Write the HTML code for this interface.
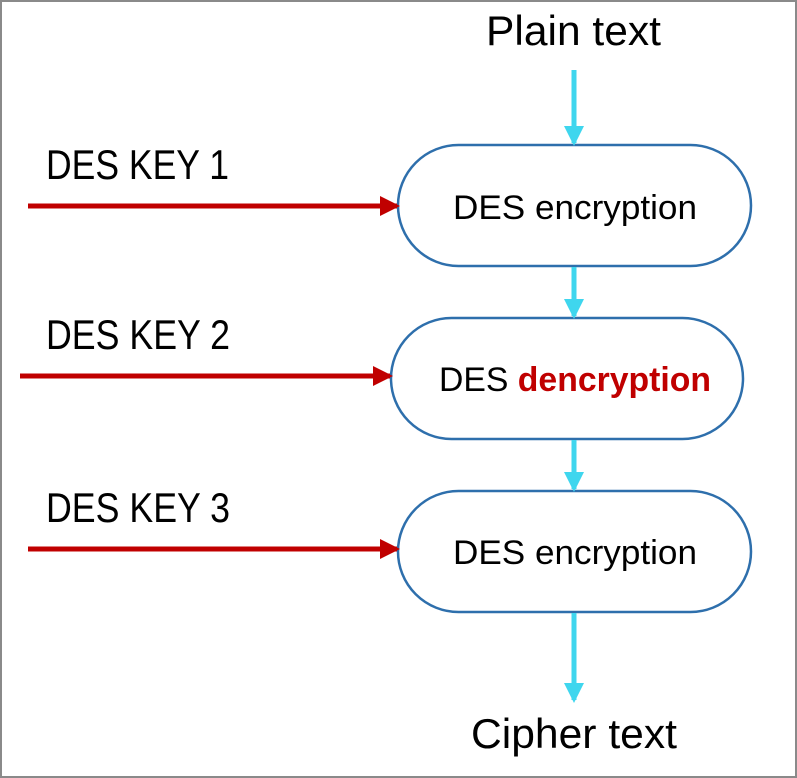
<!DOCTYPE html>
<html><head><style>body{margin:0;background:#fff}svg{display:block}</style></head><body>
<svg width="797" height="778" viewBox="0 0 797 778" xmlns="http://www.w3.org/2000/svg" font-family="Liberation Sans, sans-serif">
<rect x="1" y="1" width="795" height="776" fill="#fff" stroke="#8a8a8a" stroke-width="2"/>
<defs>
<marker id="c" markerWidth="4" markerHeight="4" refX="3.4" refY="2" orient="auto" markerUnits="strokeWidth"><path d="M0,0 L4,2 L0,4 Z" fill="#3fd6ee"/></marker>
<marker id="r" markerWidth="4" markerHeight="4" refX="3.4" refY="2" orient="auto" markerUnits="strokeWidth"><path d="M0,0 L4,2 L0,4 Z" fill="#c00000"/></marker>
</defs>
<g fill="#fff" stroke="#2e6fac" stroke-width="2.5">
<rect x="398" y="145" width="353" height="121" rx="60.5"/>
<rect x="391" y="318" width="352" height="121" rx="60.5"/>
<rect x="398" y="491" width="353" height="121" rx="60.5"/>
</g>
<g stroke="#3fd6ee" stroke-width="5">
<line x1="574" y1="70" x2="574" y2="143" marker-end="url(#c)"/>
<line x1="574" y1="267" x2="574" y2="316" marker-end="url(#c)"/>
<line x1="574" y1="440" x2="574" y2="489" marker-end="url(#c)"/>
<line x1="574" y1="613" x2="574" y2="700" marker-end="url(#c)"/>
</g>
<g stroke="#c00000" stroke-width="5">
<line x1="28" y1="206" x2="397" y2="206" marker-end="url(#r)"/>
<line x1="20" y1="376" x2="390" y2="376" marker-end="url(#r)"/>
<line x1="28" y1="549" x2="397" y2="549" marker-end="url(#r)"/>
</g>
<g font-size="42" fill="#000">
<text x="486" y="45" textLength="175" lengthAdjust="spacingAndGlyphs">Plain text</text>
<text x="46" y="179" textLength="183" lengthAdjust="spacingAndGlyphs">DES KEY 1</text>
<text x="46" y="349" textLength="184" lengthAdjust="spacingAndGlyphs">DES KEY 2</text>
<text x="46" y="522" textLength="184" lengthAdjust="spacingAndGlyphs">DES KEY 3</text>
<text x="471" y="748" textLength="206" lengthAdjust="spacingAndGlyphs">Cipher text</text>
</g>
<g font-size="34" fill="#000">
<text x="453" y="219" textLength="244" lengthAdjust="spacingAndGlyphs">DES encryption</text>
<text x="439" y="391" textLength="272" lengthAdjust="spacingAndGlyphs">DES <tspan fill="#c00000" font-weight="bold">dencryption</tspan></text>
<text x="453" y="564" textLength="244" lengthAdjust="spacingAndGlyphs">DES encryption</text>
</g>
</svg>
</body></html>
